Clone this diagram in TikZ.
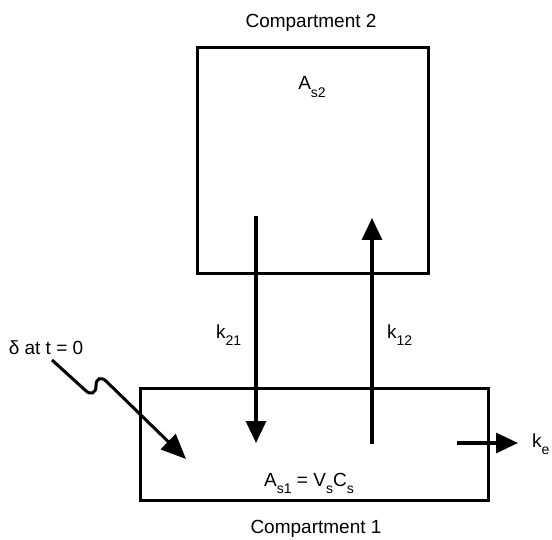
\documentclass[tikz,border=0pt]{standalone}
\usepackage{fontspec}
\setmainfont{Liberation Sans}
\usetikzlibrary{arrows.meta}
\newcommand{\mysub}[1]{\raisebox{-0.75ex}{\fontsize{14}{14}\selectfont #1}}
\begin{document}
\begin{tikzpicture}[x=1pt,y=-1pt,
  box/.style={draw=black,line width=3pt,minimum width=#1,inner sep=0pt},
  lbl/.style={font=\fontsize{19}{19}\selectfont,inner sep=0pt},
  flow/.style={line width=3.2pt,-{Triangle[width=20pt,length=22pt]}},
]
\useasboundingbox[fill=white] (0,0) rectangle (552,540);
% compartments
\node[box=231pt,minimum height=226pt] (c2) at (312.5,161) {};
\node[box=348pt,minimum height=112pt] (c1) at (314,444) {};
% titles
\node[lbl,anchor=base] (t2) at (311,28) {Compartment 2};
\node[lbl,anchor=base] (t1) at (316,533) {Compartment 1};
% contents
\node[lbl,anchor=base] (as2) at (312,90) {A\mysub{s2}};
\node[lbl,anchor=base] (as1) at (309,486) {A\mysub{s1} = V\mysub{s}C\mysub{s}};
% rate labels
\node[lbl,anchor=base west] (k21) at (216,338) {k\mysub{21}};
\node[lbl,anchor=base west] (k12) at (387,338) {k\mysub{12}};
\node[lbl,anchor=base west] (ke) at (532,447) {k\mysub{e}};
\node[lbl,anchor=base] (delta) at (46,355) {δ at t = 0};
% connector end points
\coordinate (d0) at (256,216);
\coordinate (d1) at (256,443);
\coordinate (u0) at (372,444);
\coordinate (u1) at (372,218);
\coordinate (e0) at (457,443);
\coordinate (e1) at (518,443);
\coordinate (s0) at (52,360);
\coordinate (s1) at (186,459);
% connectors
\draw[flow] (d0) -- (d1);
\draw[flow] (u0) -- (u1);
\draw[flow] (e0) -- (e1);
\draw[flow,line width=3pt,-{Triangle[width=21pt,length=25pt]}] (s0) -- (85,390)
  .. controls (91,396) and (96,393) .. (96,386)
  .. controls (96,378) and (101,376) .. (107,382) -- (s1);
\end{tikzpicture}
\end{document}
